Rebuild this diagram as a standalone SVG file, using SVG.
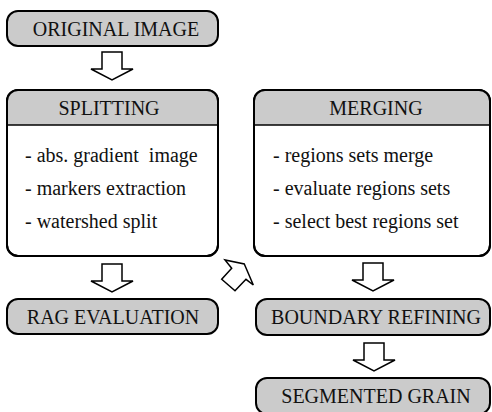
<svg xmlns="http://www.w3.org/2000/svg" width="492" height="412" viewBox="0 0 492 412">
  <style>
    .box { fill: #ffffff; stroke: #000000; stroke-width: 2; }
    .pill { fill: #cbcbcb; stroke: #000000; stroke-width: 2; }
    .head { fill: #cbcbcb; }
    .rule { stroke: #000000; stroke-width: 1.5; }
    .arrow { fill: #ffffff; stroke: #000000; stroke-width: 1.5; stroke-linejoin: miter; }
    text { font-family: "Liberation Serif", "Times New Roman", Times, Tinos, "Nimbus Roman", "Nimbus Roman No9 L", FreeSerif, "Noto Serif", "DejaVu Serif", "Linux Libertine O", serif; font-size: 20px; fill: #111111; white-space: pre; }
    .c { text-anchor: middle; }
  </style>
  <defs>
    <!-- downward block arrow, origin at the top of the shaft -->
    <path id="down" d="M -10 0 H 10 V 17 H 21 L 0 28 L -21 17 H -10 Z"/>
    <clipPath id="splitClip"><rect x="7" y="90" width="211" height="166" rx="11"/></clipPath>
    <clipPath id="mergeClip"><rect x="254" y="90" width="236" height="166" rx="11"/></clipPath>
  </defs>

  <g id="original-image">
    <rect class="pill" x="7" y="11" width="211" height="35" rx="11"/>
    <text class="c" x="116" y="36">ORIGINAL IMAGE</text>
  </g>

  <g id="splitting">
    <rect class="box" x="7" y="90" width="211" height="166" rx="11"/>
    <rect class="head" x="7" y="90" width="211" height="35" clip-path="url(#splitClip)"/>
    <line class="rule" x1="7" y1="125" x2="218" y2="125"/>
    <rect x="7" y="90" width="211" height="166" rx="11" fill="none" stroke="#000" stroke-width="2"/>
    <text class="c" x="109" y="115">SPLITTING</text>
    <text x="25" y="162" xml:space="preserve">- abs. gradient  image</text>
    <text x="25" y="195">- markers extraction</text>
    <text x="25" y="228">- watershed split</text>
  </g>

  <g id="merging">
    <rect class="box" x="254" y="90" width="236" height="166" rx="11"/>
    <rect class="head" x="254" y="90" width="236" height="35" clip-path="url(#mergeClip)"/>
    <line class="rule" x1="254" y1="125" x2="490" y2="125"/>
    <rect x="254" y="90" width="236" height="166" rx="11" fill="none" stroke="#000" stroke-width="2"/>
    <text class="c" x="376" y="115">MERGING</text>
    <text x="273" y="162">- regions sets merge</text>
    <text x="273" y="195">- evaluate regions sets</text>
    <text x="273" y="228">- select best regions set</text>
  </g>

  <g id="rag-evaluation">
    <rect class="pill" x="7" y="299" width="211" height="35" rx="11"/>
    <text class="c" x="113" y="324">RAG EVALUATION</text>
  </g>

  <g id="boundary-refining">
    <rect class="pill" x="256" y="299" width="234" height="36" rx="11"/>
    <text class="c" x="376" y="324">BOUNDARY REFINING</text>
  </g>

  <g id="segmented-grain">
    <rect class="pill" x="256" y="378" width="234" height="36" rx="11"/>
    <text class="c" x="376" y="403">SEGMENTED GRAIN</text>
  </g>

  <g id="connectors">
    <use href="#down" class="arrow" transform="translate(112,52)"/>
    <use href="#down" class="arrow" transform="translate(112,264)"/>
    <use href="#down" class="arrow" transform="translate(373,263)"/>
    <use href="#down" class="arrow" transform="translate(374,343)"/>
    <!-- diagonal block arrow from splitting up to merging -->
    <path class="arrow" d="M 244.3 264 L 253.3 285 L 246 279.3 L 235 290.7 L 221.7 279.3 L 231.7 268.3 L 225 260 Z"/>
  </g>
</svg>
